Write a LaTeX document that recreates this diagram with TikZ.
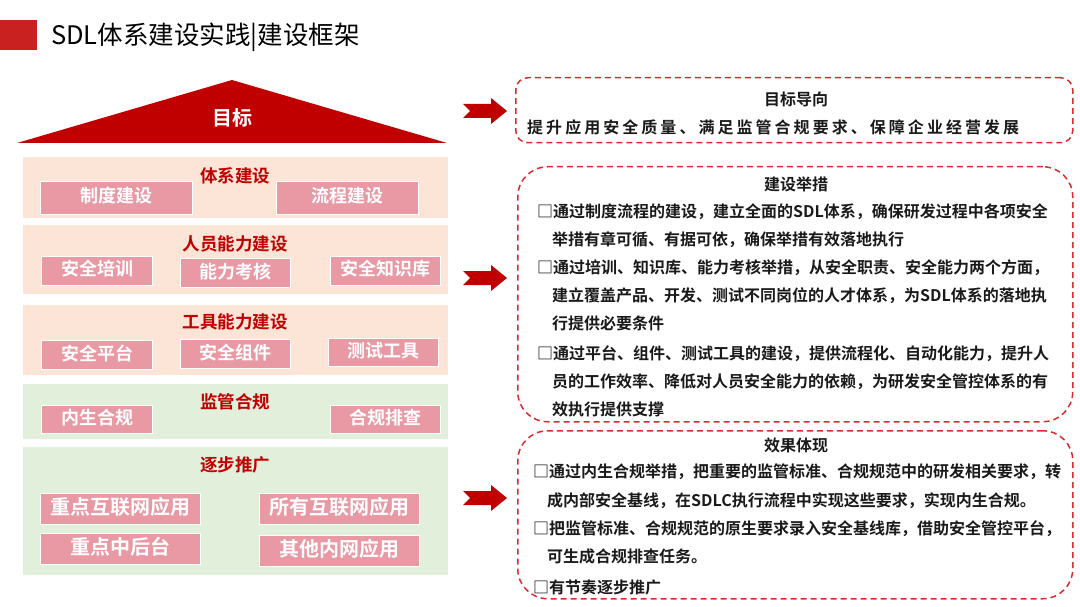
\documentclass[tikz,border=0pt]{standalone}
\usepackage{fontspec}
\setmainfont{Noto Sans CJK SC}[BoldFont={Noto Sans CJK SC Bold}]
\definecolor{dred}{HTML}{C00000}
\definecolor{bandpink}{HTML}{FCE4D6}
\definecolor{bandgreen}{HTML}{E2EFDA}
\definecolor{boxpink}{HTML}{E899A4}
\definecolor{dashred}{HTML}{DC2A2E}
\definecolor{titlered}{HTML}{C8211F}
\definecolor{txt}{HTML}{1A1A1A}
\newcommand{\fs}[1]{\fontsize{#1}{#1}\selectfont}
\tikzset{
  band/.style={fill=#1, draw=none, inner sep=0, anchor=north west},
  pbox/.style={fill=boxpink, draw=white, line width=1.2pt, text=white, inner sep=0,
    font=\bfseries\fs{18}, anchor=north west, text height=0.98em, text depth=0em},
  bandtitle/.style={text=dred, font=\bfseries\fs{17.5}, inner sep=0, yshift=-1.5pt},
  dashbox/.style={draw=dashred, line width=1.5pt, dash pattern=on 6pt off 4pt, inner sep=0, anchor=north west},
  rtitle/.style={text=txt, font=\bfseries\fs{16}, inner sep=0, text height=0.88em, text depth=0.12em, yshift=-1.5pt},
  rline/.style={text=txt, font=\bfseries\fs{16}, inner sep=0, anchor=west, text height=0.88em, text depth=0.12em, yshift=-1.5pt},
  redarrow/.pic={\fill[dred] (-44,-7) -- (-16,-7) -- (-16,-13) -- (0,0) -- (-16,13) -- (-16,7) -- (-44,7) -- (-37,0) -- cycle;}
}
\begin{document}
\begin{tikzpicture}[x=1pt,y=-1pt]
\useasboundingbox (0,0) rectangle (1080,607);
% header
\fill[titlered] (0,20) rectangle (37,50);
\node[anchor=west, inner sep=0, text=black, font=\fs{25.5}] (hdr) at (51,37) {SDL体系建设实践|建设框架};
% roof
\fill[dred] (17,143) -- (232,80) -- (447,143) -- cycle;
\node[text=white, font=\bfseries\fs{20}, inner sep=0, yshift=-1.5pt] (goal) at (232,116) {目标};
% bands
\node[band=bandpink, minimum width=425, minimum height=61] (b1) at (23,157) {};
\node[band=bandpink, minimum width=425, minimum height=69] (b2) at (23,225) {};
\node[band=bandpink, minimum width=425, minimum height=70] (b3) at (23,305) {};
\node[band=bandgreen, minimum width=425, minimum height=55] (b4) at (23,384) {};
\node[band=bandgreen, minimum width=425, minimum height=128] (b5) at (23,447) {};
\node[bandtitle] (t1) at (235,174) {体系建设};
\node[bandtitle] (t2) at (235,242) {人员能力建设};
\node[bandtitle] (t3) at (235,320) {工具能力建设};
\node[bandtitle] (t4) at (235,400) {监管合规};
\node[bandtitle] (t5) at (235,463) {逐步推广};
% boxes
\node[pbox, minimum width=152, minimum height=33] (p11) at (40,181) {制度建设};
\node[pbox, minimum width=142, minimum height=33] (p12) at (276,181) {流程建设};
\node[pbox, minimum width=111, minimum height=29] (p21) at (41,256) {安全培训};
\node[pbox, minimum width=110, minimum height=29] (p22) at (180,258) {能力考核};
\node[pbox, minimum width=110, minimum height=29] (p23) at (330,256) {安全知识库};
\node[pbox, minimum width=111, minimum height=29] (p31) at (41,340) {安全平台};
\node[pbox, minimum width=110, minimum height=29] (p32) at (180,339) {安全组件};
\node[pbox, minimum width=110, minimum height=28] (p33) at (328,338) {测试工具};
\node[pbox, minimum width=111, minimum height=28] (p41) at (41,405) {内生合规};
\node[pbox, minimum width=110, minimum height=28] (p42) at (330,405) {合规排查};
\node[pbox, font=\bfseries\fs{20}, minimum width=160, minimum height=31] (p51) at (40,493) {重点互联网应用};
\node[pbox, font=\bfseries\fs{20}, minimum width=160, minimum height=31] (p52) at (259,493) {所有互联网应用};
\node[pbox, font=\bfseries\fs{20}, minimum width=160, minimum height=31] (p53) at (40,533) {重点中后台};
\node[pbox, font=\bfseries\fs{20}, minimum width=160, minimum height=31] (p54) at (259,535) {其他内网应用};
% arrows
\pic at (507,111) {redarrow};
\pic at (507,278) {redarrow};
\pic at (507,498) {redarrow};
% right boxes
\node[dashbox, rounded corners=12pt, minimum width=557, minimum height=65] (r1) at (515,77) {};
\node[dashbox, rounded corners=30pt, minimum width=555, minimum height=255] (r2) at (517,166) {};
\node[dashbox, rounded corners=30pt, minimum width=555, minimum height=168] (r3) at (517,430) {};
% box 1 text
\node[rtitle] (r1t) at (796,100) {目标导向};
\node[rline] (r1a) at (527,128) {\addfontfeature{LetterSpace=19}提升应用安全质量、满足监管合规要求、保障企业经营发展};
% box 2 text
\node[rtitle] (r2t) at (796,185) {建设举措};
\node[rline] (l1) at (537,212) {□通过制度流程的建设，建立全面的SDL体系，确保研发过程中各项安全};
\node[rline] (l2) at (552,240) {举措有章可循、有据可依，确保举措有效落地执行};
\node[rline] (l3) at (537,268) {□通过培训、知识库、能力考核举措，从安全职责、安全能力两个方面，};
\node[rline] (l4) at (552,296) {建立覆盖产品、开发、测试不同岗位的人才体系，为SDL体系的落地执};
\node[rline] (l5) at (552,324) {行提供必要条件};
\node[rline] (l6) at (537,354) {□通过平台、组件、测试工具的建设，提供流程化、自动化能力，提升人};
\node[rline] (l7) at (552,382) {员的工作效率、降低对人员安全能力的依赖，为研发安全管控体系的有};
\node[rline] (l8) at (552,410) {效执行提供支撑};
% box 3 text
\node[rtitle] (r3t) at (796,446) {效果体现};
\node[rline] (m1) at (533,472) {□通过内生合规举措，把重要的监管标准、合规规范中的研发相关要求，转};
\node[rline] (m2) at (547,501) {成内部安全基线，在SDLC执行流程中实现这些要求，实现内生合规。};
\node[rline] (m3) at (533,529) {□把监管标准、合规规范的原生要求录入安全基线库，借助安全管控平台，};
\node[rline] (m4) at (547,557) {可生成合规排查任务。};
\node[rline] (m5) at (533,588) {□有节奏逐步推广};
\end{tikzpicture}
\end{document}
